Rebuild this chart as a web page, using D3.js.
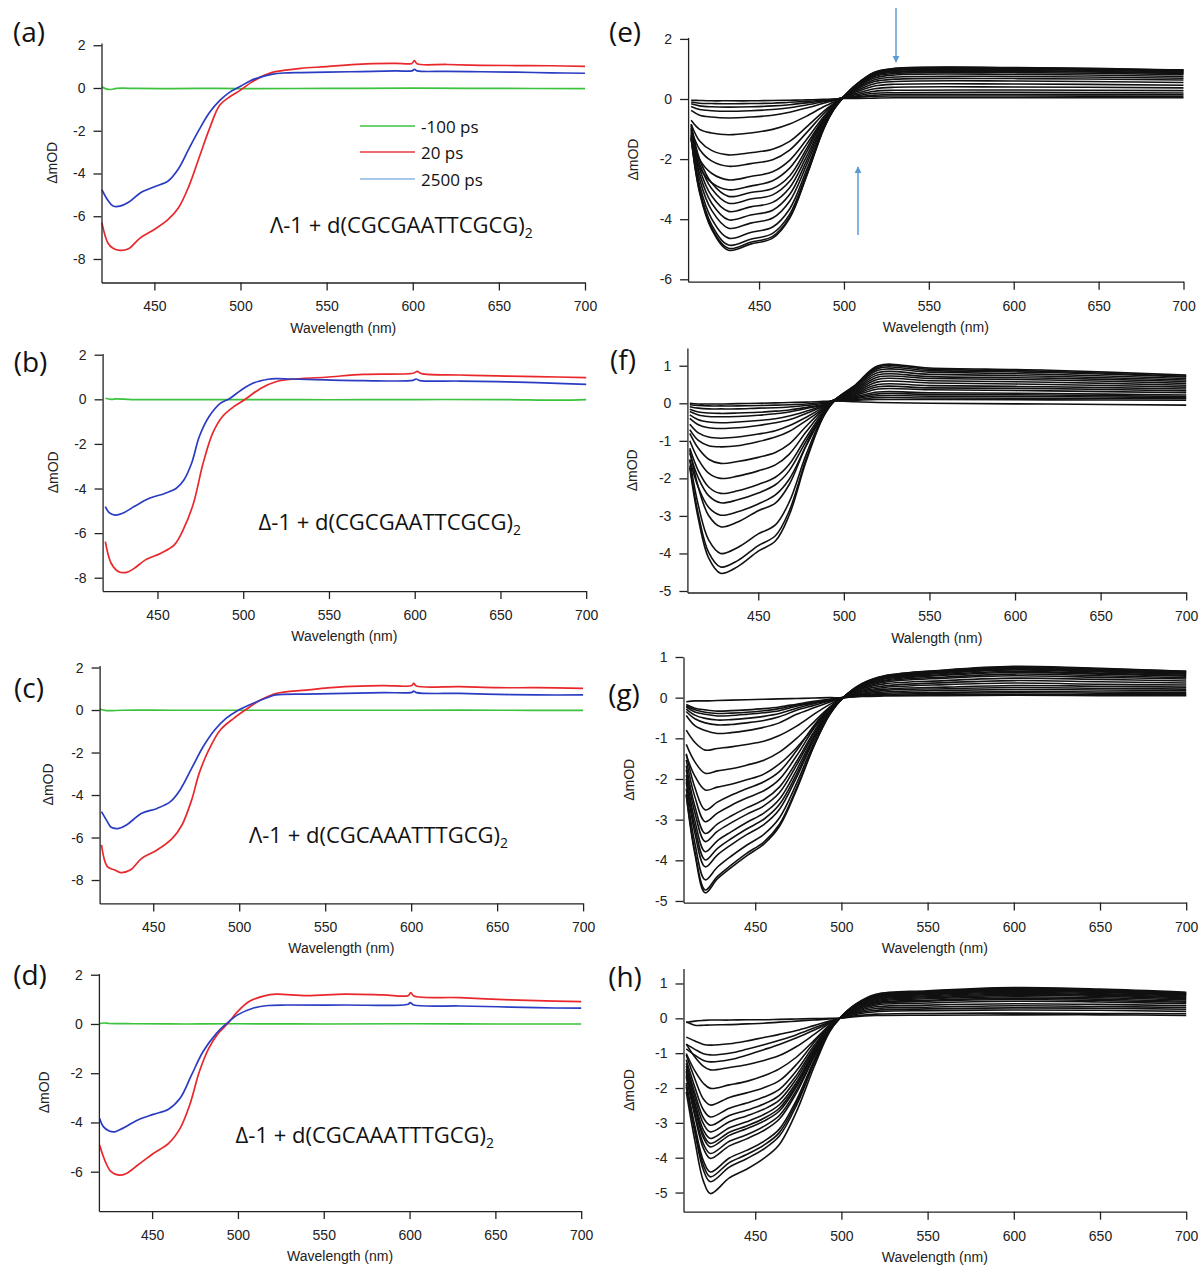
<!DOCTYPE html>
<html>
<head>
<meta charset="utf-8">
<script src="https://cdn.jsdelivr.net/npm/d3@7"></script>
<style>
body { margin: 0; background: #fff; }
svg { display: block; }
.axis path, .axis line { stroke: #222; stroke-width: 1.3px; }
.axis text { font-family: 'Liberation Sans', Arial, sans-serif; font-size: 14px; fill: #222; }
.axis-title { font-family: 'Liberation Sans', Arial, sans-serif; font-size: 14px; fill: #222; }
.panel-letter { font-family: 'Open Sans', sans-serif; font-size: 28px; fill: #111; }
.sample { font-family: 'Open Sans', sans-serif; font-size: 22px; fill: #111; }
.legend-text { font-family: 'Open Sans', sans-serif; font-size: 17px; fill: #111; }
</style>
</head>
<body>
<div id="main"></div>
<script>
// Declare sizes as variables
var svgWidth = 1201;
var svgHeight = 1265;

var wlTicks = [450, 500, 550, 600, 650, 700];

// ---------- left column: -100 ps / 20 ps / 2500 ps spectra, [nm, dmOD] ----------
var aGreen = [[419.5,0.06],[422,-0.04],[425,-0.07],[428,-0.02],[440,-0.02],[460,-0.03],[480,-0.02],[500,-0.03],[550,-0.02],[600,-0.01],[650,-0.02],[700,-0.03]];
var aRed = [[419.5,-6.3],[423,-7.25],[426,-7.5],[430,-7.6],[435,-7.52],[442,-7.0],[450,-6.62],[458,-6.15],[464,-5.6],[470,-4.6],[476,-3.25],[482,-1.9],[488,-0.8],[494,-0.4],[500,-0.1],[506,0.25],[512,0.52],[518,0.72],[525,0.82],[535,0.92],[550,1.0],[570,1.12],[590,1.15],[599.5,1.15],[601,1.28],[602.5,1.13],[620,1.1],[640,1.06],[660,1.05],[680,1.04],[700,1.01]];
var aBlue = [[419.5,-4.75],[423,-5.25],[426,-5.52],[430,-5.53],[435,-5.35],[442,-4.9],[450,-4.62],[458,-4.35],[464,-3.78],[470,-2.85],[476,-1.95],[482,-1.15],[488,-0.58],[494,-0.18],[500,0.08],[506,0.35],[512,0.52],[518,0.64],[525,0.7],[535,0.72],[550,0.74],[570,0.77],[590,0.8],[599.5,0.8],[601,0.87],[602.5,0.8],[620,0.78],[640,0.76],[660,0.74],[680,0.71],[700,0.69]];

var bGreen = [[419.6,0.05],[423,0.0],[426,0.02],[435,-0.01],[460,-0.01],[500,-0.01],[550,-0.02],[600,-0.01],[650,-0.01],[685,-0.04],[700,-0.01]];
var bRed = [[419.6,-6.38],[423,-7.35],[427.4,-7.73],[432,-7.76],[436.4,-7.58],[443,-7.2],[452,-6.9],[459.8,-6.53],[465.4,-5.78],[471,-4.66],[476.6,-2.87],[482.2,-1.52],[487.8,-0.78],[494.5,-0.33],[501.2,0],[510.1,0.49],[519,0.79],[528,0.9],[548,0.99],[570,1.12],[599,1.17],[601.5,1.25],[604,1.15],[626,1.09],[648,1.05],[671,1.02],[700,0.97]];
var bBlue = [[419.6,-4.81],[421.8,-5.08],[425.2,-5.19],[429.7,-5.11],[436.4,-4.81],[445.3,-4.44],[454.2,-4.22],[461,-3.99],[465.4,-3.62],[469.9,-2.87],[474.4,-1.67],[480,-0.78],[486.6,-0.18],[492.2,0.04],[498.9,0.42],[505.6,0.72],[514.6,0.9],[519,0.93],[528,0.91],[548,0.87],[570,0.84],[599,0.85],[600.8,0.91],[603,0.84],[626,0.82],[648,0.79],[671,0.75],[700,0.67]];

var cGreen = [[418.9,0.05],[422,-0.02],[425,-0.03],[432,-0.01],[460,-0.01],[500,-0.01],[550,-0.01],[600,-0.01],[650,-0.01],[700,-0.02]];
var cRed = [[419.9,-6.35],[423.3,-7.37],[427.7,-7.53],[431,-7.65],[436.6,-7.53],[443.3,-6.98],[452.2,-6.59],[461.1,-6.04],[466.7,-5.41],[472.3,-4.24],[476.7,-2.98],[482.3,-1.88],[489,-0.94],[496.8,-0.39],[503.5,0],[512.4,0.47],[521.3,0.78],[539.1,0.94],[561.4,1.1],[583.7,1.15],[600.4,1.15],[601.5,1.25],[603,1.13],[628.3,1.1],[650.6,1.05],[672.9,1.05],[700,1.02]];
var cBlue = [[419.9,-4.78],[423.3,-5.25],[425.5,-5.52],[430,-5.57],[434.4,-5.41],[443.3,-4.86],[452.2,-4.63],[460,-4.31],[465.6,-3.76],[472.3,-2.75],[479,-1.73],[485.7,-0.94],[492.3,-0.39],[499,-0.03],[507.9,0.31],[516.9,0.6],[521.3,0.71],[539.1,0.75],[561.4,0.78],[583.7,0.82],[600.4,0.83],[601.5,0.89],[603,0.82],[628.3,0.78],[650.6,0.74],[672.9,0.71],[700,0.71]];

var dGreen = [[419.2,0.01],[422,0.04],[425,0.02],[440,0.01],[470,0.0],[500,0.01],[550,0.0],[600,0.01],[650,0.0],[700,0.0]];
var dRed = [[419.4,-4.92],[422.8,-5.6],[426.1,-6.0],[430.6,-6.14],[435,-6.07],[441.7,-5.73],[450.7,-5.26],[459.6,-4.85],[466.3,-4.24],[471.9,-3.29],[477.5,-1.94],[483,-0.99],[488.6,-0.38],[494.2,0.03],[499.8,0.5],[506.5,0.91],[515.4,1.14],[522.1,1.21],[540,1.15],[562.3,1.21],[584.6,1.18],[599.1,1.15],[600.7,1.27],[602.5,1.14],[629.3,1.07],[651.6,1.0],[673.9,0.95],[700,0.91]];
var dBlue = [[419.4,-3.83],[421.6,-4.17],[425,-4.35],[428.3,-4.38],[432.8,-4.24],[441.7,-3.9],[450.7,-3.67],[459.6,-3.46],[466.3,-3.02],[473,-2.07],[479.7,-1.12],[487.5,-0.38],[493.1,0],[499.8,0.37],[508.7,0.64],[517.6,0.75],[528.8,0.77],[562.3,0.77],[599.1,0.8],[600.3,0.87],[602.5,0.77],[629.3,0.73],[651.6,0.7],[673.9,0.66],[700,0.64]];

var legendLabels = ['-100 ps', '20 ps', '2500 ps'];

// ---------- right column: time series of spectra, values at shared wavelengths ----------
var eWl = [410, 415, 422, 432, 445, 458, 468, 478, 488, 494, 500, 507, 518, 530, 600, 700];
var eCurves = [
  [-1.31,-3.12,-4.33,-5.03,-4.83,-4.63,-3.97,-2.57,-1.01,-0.35,0.08,0.47,0.89,1.02,1.05,0.97],
  [-1.29,-3.08,-4.27,-4.97,-4.77,-4.57,-3.93,-2.53,-0.99,-0.35,0.08,0.47,0.88,1.01,1.04,0.96],
  [-1.26,-3.01,-4.18,-4.86,-4.67,-4.47,-3.84,-2.48,-0.97,-0.34,0.08,0.46,0.87,0.99,1.02,0.94],
  [-1.2,-2.87,-3.98,-4.63,-4.44,-4.26,-3.66,-2.36,-0.93,-0.32,0.08,0.45,0.85,0.97,1.0,0.92],
  [-1.12,-2.67,-3.7,-4.3,-4.13,-3.96,-3.4,-2.19,-0.86,-0.3,0.08,0.44,0.83,0.95,0.98,0.9],
  [-1.05,-2.49,-3.46,-4.02,-3.86,-3.7,-3.18,-2.05,-0.8,-0.28,0.08,0.43,0.81,0.92,0.95,0.87],
  [-0.97,-2.32,-3.22,-3.74,-3.59,-3.44,-2.95,-1.91,-0.75,-0.26,0.08,0.41,0.78,0.89,0.92,0.85],
  [-0.9,-2.15,-2.98,-3.47,-3.33,-3.19,-2.74,-1.77,-0.69,-0.24,0.08,0.4,0.75,0.85,0.88,0.81],
  [-0.84,-2.01,-2.79,-3.24,-3.11,-2.98,-2.56,-1.65,-0.65,-0.23,0.08,0.37,0.7,0.8,0.82,0.75],
  [-1.36,-2.27,-2.78,-3.02,-2.9,-2.72,-2.3,-1.51,-0.66,-0.24,0.08,0.34,0.64,0.73,0.75,0.69],
  [-1.21,-2.02,-2.47,-2.69,-2.58,-2.42,-2.04,-1.35,-0.59,-0.22,0.08,0.31,0.58,0.66,0.68,0.63],
  [-1.01,-1.68,-2.06,-2.24,-2.15,-2.02,-1.7,-1.12,-0.49,-0.18,0.08,0.27,0.51,0.58,0.6,0.55],
  [-0.84,-1.4,-1.71,-1.86,-1.79,-1.67,-1.41,-0.93,-0.41,-0.15,0.08,0.23,0.43,0.49,0.5,0.46],
  [-0.71,-1.01,-1.13,-1.19,-1.13,-1.01,-0.83,-0.57,-0.26,-0.1,0.07,0.18,0.34,0.39,0.4,0.37],
  [-0.38,-0.54,-0.6,-0.63,-0.6,-0.54,-0.44,-0.3,-0.14,-0.05,0.06,0.14,0.26,0.29,0.3,0.28],
  [-0.25,-0.35,-0.39,-0.41,-0.39,-0.35,-0.29,-0.2,-0.09,-0.03,0.05,0.1,0.19,0.21,0.22,0.2],
  [-0.16,-0.23,-0.26,-0.27,-0.26,-0.23,-0.19,-0.13,-0.06,-0.02,0.04,0.07,0.13,0.15,0.15,0.14],
  [-0.1,-0.14,-0.15,-0.16,-0.15,-0.14,-0.11,-0.08,-0.04,-0.01,0.03,0.05,0.09,0.1,0.1,0.09],
  [-0.04,-0.05,-0.06,-0.06,-0.06,-0.05,-0.04,-0.03,-0.01,0.0,0.02,0.02,0.03,0.04,0.04,0.04]
];

var fWl = [410, 415, 421, 428, 438, 450, 460, 468, 478, 488, 495, 507, 520, 550, 620, 700];
var fCurves = [
  [-1.72,-3.08,-4.12,-4.53,-4.35,-3.94,-3.67,-2.99,-1.54,-0.36,0.09,0.5,1.0,0.94,0.88,0.75],
  [-1.66,-2.96,-3.97,-4.36,-4.19,-3.79,-3.53,-2.88,-1.48,-0.35,0.09,0.49,0.97,0.91,0.85,0.72],
  [-1.52,-2.72,-3.64,-4.0,-3.84,-3.48,-3.24,-2.64,-1.36,-0.32,0.09,0.47,0.93,0.87,0.82,0.7],
  [-1.25,-2.24,-2.99,-3.29,-3.16,-2.86,-2.66,-2.17,-1.12,-0.26,0.1,0.45,0.88,0.83,0.77,0.66],
  [-1.49,-2.24,-2.77,-2.98,-2.89,-2.68,-2.44,-2.03,-1.13,-0.3,0.1,0.42,0.82,0.77,0.72,0.62],
  [-1.33,-1.99,-2.46,-2.65,-2.57,-2.39,-2.17,-1.8,-1.01,-0.27,0.1,0.39,0.76,0.71,0.67,0.58],
  [-1.2,-1.8,-2.23,-2.4,-2.33,-2.16,-1.97,-1.63,-0.91,-0.24,0.1,0.36,0.7,0.66,0.62,0.53],
  [-1.0,-1.5,-1.86,-2.0,-1.94,-1.8,-1.64,-1.36,-0.76,-0.2,0.1,0.33,0.64,0.6,0.56,0.48],
  [-0.8,-1.2,-1.49,-1.6,-1.55,-1.44,-1.31,-1.09,-0.61,-0.16,0.1,0.3,0.57,0.54,0.5,0.43],
  [-0.7,-0.99,-1.13,-1.16,-1.13,-1.02,-0.9,-0.75,-0.46,-0.14,0.1,0.27,0.5,0.47,0.44,0.38],
  [-0.56,-0.79,-0.9,-0.93,-0.9,-0.82,-0.73,-0.6,-0.37,-0.11,0.1,0.24,0.44,0.41,0.39,0.33],
  [-0.4,-0.57,-0.65,-0.67,-0.65,-0.59,-0.52,-0.44,-0.27,-0.08,0.1,0.21,0.38,0.36,0.33,0.28],
  [-0.31,-0.44,-0.5,-0.52,-0.5,-0.46,-0.41,-0.34,-0.21,-0.06,0.1,0.18,0.3,0.28,0.26,0.22],
  [-0.22,-0.31,-0.35,-0.36,-0.35,-0.32,-0.28,-0.23,-0.14,-0.04,0.1,0.15,0.25,0.24,0.22,0.18],
  [-0.16,-0.23,-0.26,-0.27,-0.26,-0.24,-0.21,-0.18,-0.11,-0.03,0.09,0.13,0.2,0.19,0.18,0.15],
  [-0.09,-0.13,-0.15,-0.15,-0.15,-0.13,-0.12,-0.1,-0.06,0.0,0.08,0.1,0.15,0.14,0.13,0.12],
  [-0.04,-0.06,-0.07,-0.07,-0.07,-0.06,-0.05,-0.04,-0.02,0.02,0.06,0.08,0.1,0.1,0.09,0.08],
  [0.0,-0.02,-0.02,-0.02,-0.01,0.0,0.01,0.02,0.03,0.05,0.06,0.04,0.02,0.0,-0.02,-0.05]
];

var gWl = [410, 415, 421, 428, 436, 445, 455, 464, 474, 484, 493, 501, 512, 525, 560, 600, 650, 700];
var gCurves = [
  [-2.4,-3.84,-4.8,-4.46,-4.18,-3.89,-3.6,-3.17,-2.26,-1.2,-0.43,0,0.35,0.54,0.68,0.77,0.72,0.65],
  [-2.37,-3.78,-4.73,-4.4,-4.12,-3.83,-3.55,-3.12,-2.22,-1.18,-0.43,0,0.34,0.53,0.67,0.76,0.71,0.65],
  [-2.24,-3.58,-4.48,-4.17,-3.9,-3.63,-3.36,-2.96,-2.11,-1.12,-0.4,0,0.33,0.52,0.65,0.74,0.69,0.63],
  [-2.08,-3.33,-4.16,-3.87,-3.62,-3.37,-3.12,-2.75,-1.96,-1.04,-0.37,0,0.32,0.5,0.63,0.72,0.67,0.61],
  [-2.0,-3.19,-3.99,-3.71,-3.47,-3.23,-2.99,-2.63,-1.88,-1.0,-0.36,0,0.32,0.49,0.62,0.7,0.65,0.6],
  [-1.9,-3.03,-3.79,-3.52,-3.3,-3.07,-2.84,-2.5,-1.78,-0.95,-0.34,0,0.31,0.48,0.6,0.68,0.63,0.58],
  [-1.77,-2.83,-3.54,-3.29,-3.08,-2.87,-2.66,-2.34,-1.66,-0.89,-0.32,0,0.29,0.46,0.57,0.65,0.6,0.55],
  [-1.67,-2.67,-3.34,-3.11,-2.91,-2.71,-2.51,-2.2,-1.57,-0.84,-0.3,0,0.28,0.43,0.55,0.62,0.58,0.53],
  [-1.53,-2.44,-3.05,-2.84,-2.65,-2.47,-2.29,-2.01,-1.43,-0.76,-0.27,0,0.26,0.41,0.51,0.58,0.54,0.49],
  [-1.38,-2.21,-2.76,-2.57,-2.4,-2.24,-2.07,-1.82,-1.3,-0.69,-0.25,0,0.24,0.38,0.48,0.54,0.5,0.46],
  [-1.41,-1.93,-2.27,-2.2,-2.13,-2.02,-1.88,-1.63,-1.23,-0.73,-0.3,0,0.22,0.34,0.42,0.48,0.45,0.41],
  [-1.15,-1.58,-1.86,-1.8,-1.75,-1.66,-1.54,-1.34,-1.0,-0.6,-0.24,0,0.19,0.29,0.37,0.42,0.39,0.36],
  [-0.8,-1.1,-1.29,-1.25,-1.21,-1.15,-1.07,-0.93,-0.7,-0.41,-0.17,0,0.16,0.25,0.32,0.36,0.33,0.31],
  [-0.44,-0.69,-0.81,-0.88,-0.86,-0.81,-0.73,-0.62,-0.41,-0.25,-0.11,0,0.14,0.21,0.26,0.3,0.28,0.26],
  [-0.34,-0.52,-0.62,-0.67,-0.66,-0.62,-0.56,-0.47,-0.31,-0.19,-0.08,0,0.11,0.18,0.22,0.25,0.23,0.21],
  [-0.28,-0.43,-0.51,-0.55,-0.54,-0.51,-0.46,-0.39,-0.26,-0.15,-0.07,0,0.09,0.14,0.18,0.2,0.19,0.17],
  [-0.23,-0.35,-0.41,-0.45,-0.44,-0.41,-0.37,-0.32,-0.21,-0.13,-0.05,0,0.07,0.11,0.13,0.15,0.14,0.13],
  [-0.2,-0.3,-0.36,-0.39,-0.38,-0.36,-0.32,-0.27,-0.18,-0.11,-0.05,0,0.05,0.08,0.11,0.12,0.11,0.1],
  [-0.17,-0.26,-0.3,-0.33,-0.32,-0.3,-0.27,-0.23,-0.16,-0.09,-0.04,0,0.04,0.06,0.07,0.08,0.07,0.07],
  [-0.1,-0.08,-0.08,-0.07,-0.06,-0.05,-0.04,-0.03,-0.02,-0.01,0,0,0.03,0.04,0.05,0.06,0.05,0.05]
];

var hWl = [410, 415, 420, 424, 435, 445, 455, 464, 474, 484, 493, 499, 508, 520, 550, 600, 650, 700];
var hCurves = [
  [-2.11,-3.52,-4.68,-5.03,-4.58,-4.33,-4.02,-3.62,-2.67,-1.41,-0.4,0,0.4,0.69,0.79,0.88,0.84,0.75],
  [-1.97,-3.28,-4.36,-4.69,-4.27,-4.03,-3.75,-3.38,-2.49,-1.31,-0.38,0,0.39,0.67,0.77,0.86,0.82,0.73],
  [-1.91,-3.19,-4.23,-4.55,-4.14,-3.91,-3.64,-3.28,-2.41,-1.27,-0.36,0,0.38,0.66,0.76,0.84,0.8,0.71],
  [-1.85,-3.09,-4.1,-4.41,-4.01,-3.79,-3.53,-3.18,-2.34,-1.23,-0.35,0,0.37,0.64,0.74,0.82,0.78,0.7],
  [-1.69,-2.81,-3.74,-4.02,-3.66,-3.46,-3.22,-2.89,-2.13,-1.13,-0.32,0,0.36,0.62,0.72,0.8,0.76,0.68],
  [-1.63,-2.72,-3.61,-3.88,-3.53,-3.34,-3.1,-2.79,-2.06,-1.09,-0.31,0,0.35,0.61,0.7,0.78,0.74,0.66],
  [-1.55,-2.58,-3.43,-3.69,-3.36,-3.17,-2.95,-2.66,-1.96,-1.03,-0.3,0,0.34,0.59,0.68,0.75,0.71,0.64],
  [-1.51,-2.51,-3.34,-3.59,-3.27,-3.09,-2.87,-2.58,-1.9,-1.01,-0.29,0,0.32,0.56,0.65,0.72,0.68,0.61],
  [-1.45,-2.42,-3.21,-3.45,-3.14,-2.97,-2.76,-2.48,-1.83,-0.97,-0.28,0,0.31,0.54,0.62,0.69,0.66,0.59],
  [-1.37,-2.28,-3.03,-3.26,-2.97,-2.8,-2.61,-2.35,-1.73,-0.91,-0.26,0,0.3,0.51,0.59,0.66,0.63,0.56],
  [-1.29,-2.15,-2.86,-3.07,-2.79,-2.64,-2.46,-2.21,-1.63,-0.86,-0.25,0,0.28,0.48,0.56,0.62,0.59,0.53],
  [-1.19,-1.98,-2.63,-2.83,-2.58,-2.43,-2.26,-2.04,-1.5,-0.79,-0.23,0,0.26,0.45,0.52,0.58,0.55,0.49],
  [-1.05,-1.74,-2.32,-2.49,-2.27,-2.14,-1.99,-1.79,-1.32,-0.7,-0.2,0,0.24,0.42,0.49,0.54,0.51,0.46],
  [-1.01,-1.51,-1.87,-2.01,-1.91,-1.81,-1.65,-1.45,-1.11,-0.64,-0.2,0,0.22,0.38,0.44,0.49,0.47,0.42],
  [-0.74,-1.11,-1.38,-1.48,-1.41,-1.33,-1.21,-1.07,-0.81,-0.47,-0.15,0,0.19,0.33,0.38,0.42,0.4,0.36],
  [-0.88,-1.06,-1.21,-1.25,-1.19,-1.06,-0.9,-0.75,-0.56,-0.34,-0.13,0,0.16,0.28,0.32,0.36,0.34,0.31],
  [-0.74,-0.89,-1.02,-1.05,-1.0,-0.89,-0.76,-0.63,-0.47,-0.28,-0.11,0,0.14,0.23,0.27,0.3,0.29,0.26],
  [-0.54,-0.65,-0.75,-0.77,-0.73,-0.65,-0.55,-0.46,-0.35,-0.21,-0.08,0,0.11,0.19,0.22,0.24,0.23,0.2],
  [-0.1,-0.2,-0.2,-0.19,-0.18,-0.16,-0.14,-0.11,-0.08,-0.05,-0.02,0,0.07,0.12,0.14,0.15,0.14,0.13],
  [-0.12,-0.08,-0.06,-0.05,-0.05,-0.04,-0.04,-0.03,-0.02,-0.01,0,0,0.05,0.08,0.09,0.1,0.1,0.08]
];

// colours
var green = '#3cc23c', red = '#e8282c', blue = '#2a3cc2', black = '#111';
var legendColors = ['#3cc23c', '#e8383c', '#8db4e2'];

// zip a shared wavelength grid with each curve's values
function zipCurves(wl, curves) {
  return curves.map(function(vals) {
    return wl.map(function(w, i) { return [w, vals[i]]; });
  });
}

var panels = [
  {letter: '(a)', lx: 29, ly: 42, left: 101.5, right: 585, top: 43.1, bottom: 282.5, x: [419.3, 700], y: [-9.1, 2.1],
   yTicks: [-8, -6, -4, -2, 0, 2], xTitle: 'Wavelength (nm)', yOff: 45,
   series: [{d: aGreen, c: green}, {d: aRed, c: red}, {d: aBlue, c: blue}],
   sample: {pre: 'Λ-1 + d(CGCGAATTCGCG)', x: 270, y: 232.5}, legend: true},
  {letter: '(b)', lx: 30.5, ly: 372, left: 102.6, right: 586.2, top: 353.6, bottom: 591.1, x: [418, 700], y: [-8.6, 2.05],
   yTicks: [-8, -6, -4, -2, 0, 2], xTitle: 'Wavelength (nm)', yOff: 45,
   series: [{d: bGreen, c: green}, {d: bRed, c: red}, {d: bBlue, c: blue}],
   sample: {pre: 'Δ-1 + d(CGCGAATTCGCG)', x: 258.6, y: 530}},
  {letter: '(c)', lx: 29, ly: 698, left: 99.6, right: 583.1, top: 665.4, bottom: 903.4, x: [418.8, 700], y: [-9.1, 2.1],
   yTicks: [-8, -6, -4, -2, 0, 2], xTitle: 'Wavelength (nm)', yOff: 47,
   series: [{d: cGreen, c: green}, {d: cRed, c: red}, {d: cBlue, c: blue}],
   sample: {pre: 'Λ-1 + d(CGCAAATTTGCG)', x: 249, y: 843}},
  {letter: '(d)', lx: 30, ly: 985, left: 98.9, right: 581.2, top: 973.5, bottom: 1211.1, x: [419, 700], y: [-7.6, 2.05],
   yTicks: [-6, -4, -2, 0, 2], xTitle: 'Wavelength (nm)', yOff: 50,
   series: [{d: dGreen, c: green}, {d: dRed, c: red}, {d: dBlue, c: blue}],
   sample: {pre: 'Δ-1 + d(CGCAAATTTGCG)', x: 235.6, y: 1143}},
  {letter: '(e)', lx: 625, ly: 42, left: 688.1, right: 1183.5, top: 37.4, bottom: 281.7, x: [408.2, 700], y: [-6.08, 2.05],
   yTicks: [-6, -4, -2, 0, 2], xTitle: 'Wavelength (nm)', yOff: 50,
   series: zipCurves(eWl, eCurves).map(function(d) { return {d: d, c: black}; }), arrows: true},
  {letter: '(f)', lx: 623, ly: 370, left: 687.4, right: 1186.2, top: 348.1, bottom: 592.5, x: [408.6, 700], y: [-5.04, 1.47],
   yTicks: [-5, -4, -3, -2, -1, 0, 1], xTitle: 'Walength (nm)', yOff: 50,
   series: zipCurves(fWl, fCurves).map(function(d) { return {d: d, c: black}; })},
  {letter: '(g)', lx: 624, ly: 704, left: 683.5, right: 1186.2, top: 657, bottom: 902.6, x: [408.4, 700], y: [-5.04, 1.0],
   yTicks: [-5, -4, -3, -2, -1, 0, 1], xTitle: 'Wavelength (nm)', yOff: 50,
   series: zipCurves(gWl, gCurves).map(function(d) { return {d: d, c: black}; })},
  {letter: '(h)', lx: 625, ly: 987, left: 683.5, right: 1186.2, top: 968.5, bottom: 1211.7, x: [408.4, 700], y: [-5.55, 1.43],
   yTicks: [-5, -4, -3, -2, -1, 0, 1], xTitle: 'Wavelength (nm)', yOff: 50,
   series: zipCurves(hWl, hCurves).map(function(d) { return {d: d, c: black}; })}
];

var svg = d3.select('#main')
  .append('svg')
  .attr('width', svgWidth)
  .attr('height', svgHeight);

var arrowColor = '#5b9bd5';
svg.append('defs').append('marker')
  .attr('id', 'arrowhead')
  .attr('viewBox', '0 0 10 10')
  .attr('refX', 9).attr('refY', 5)
  .attr('markerWidth', 7).attr('markerHeight', 8)
  .attr('markerUnits', 'userSpaceOnUse')
  .attr('orient', 'auto')
  .append('path')
  .attr('d', 'M0,0 L10,5 L0,10 Z')
  .attr('fill', arrowColor);

panels.forEach(function(p) {
  var xScale = d3.scaleLinear().domain(p.x).range([p.left, p.right]);
  var yScale = d3.scaleLinear().domain(p.y).range([p.bottom, p.top]);
  var g = svg.append('g');

  var line = d3.line()
    .x(function(d) { return xScale(d[0]); })
    .y(function(d) { return yScale(d[1]); })
    .curve(d3.curveCatmullRom.alpha(0.5));

  g.selectAll('.spectrum')
    .data(p.series)
    .enter()
    .append('path')
    .attr('class', 'spectrum')
    .attr('d', function(s) { return line(s.d); })
    .attr('fill', 'none')
    .attr('stroke', function(s) { return s.c; })
    .attr('stroke-width', p.series.length > 3 ? 1.6 : 1.7)
    .attr('stroke-linejoin', 'round');

  // axes
  g.append('g')
    .attr('class', 'axis')
    .attr('transform', 'translate(0,' + p.bottom + ')')
    .call(d3.axisBottom(xScale).tickValues(wlTicks).tickSizeInner(8).tickSizeOuter(0).tickPadding(11)
      .tickFormat(function(d) { return String(d); }));

  g.append('g')
    .attr('class', 'axis')
    .attr('transform', 'translate(' + p.left + ',0)')
    .call(d3.axisLeft(yScale).tickValues(p.yTicks).tickSizeInner(8).tickSizeOuter(0).tickPadding(8)
      .tickFormat(function(d) { return String(d); }));

  // axis titles
  g.append('text')
    .attr('class', 'axis-title')
    .attr('x', (p.left + p.right) / 2)
    .attr('y', p.bottom + 50)
    .attr('text-anchor', 'middle')
    .text(p.xTitle);

  g.append('text')
    .attr('class', 'axis-title')
    .attr('transform', 'translate(' + (p.left - p.yOff) + ',' + ((p.top + p.bottom) / 2) + ') rotate(-90)')
    .attr('text-anchor', 'middle')
    .text('ΔmOD');

  // panel letter
  g.append('text')
    .attr('class', 'panel-letter')
    .attr('x', p.lx)
    .attr('y', p.ly)
    .attr('text-anchor', 'middle')
    .text(p.letter);

  // sample label with subscript 2
  if (p.sample) {
    var t = g.append('text')
      .attr('class', 'sample')
      .attr('x', p.sample.x)
      .attr('y', p.sample.y);
    t.append('tspan').text(p.sample.pre);
    t.append('tspan').attr('dy', 5).style('font-size', '14px').text('2');
  }

  if (p.legend) {
    var legendY = [126, 152, 179];
    legendLabels.forEach(function(lbl, i) {
      g.append('line')
        .attr('x1', 360).attr('x2', 415)
        .attr('y1', legendY[i]).attr('y2', legendY[i])
        .attr('stroke', legendColors[i])
        .attr('stroke-width', 1.3);
      g.append('text')
        .attr('class', 'legend-text')
        .attr('x', 421)
        .attr('y', legendY[i] + 6.5)
        .text(lbl);
    });
  }

  if (p.arrows) {
    // down arrow above the plateau, up arrow below the bleach
    g.append('line')
      .attr('x1', 896).attr('y1', 8).attr('x2', 896).attr('y2', 62)
      .attr('stroke', arrowColor).attr('stroke-width', 1.5)
      .attr('marker-end', 'url(#arrowhead)');
    g.append('line')
      .attr('x1', 858).attr('y1', 235).attr('x2', 858).attr('y2', 167)
      .attr('stroke', arrowColor).attr('stroke-width', 1.5)
      .attr('marker-end', 'url(#arrowhead)');
  }
});
</script>
</body>
</html>
